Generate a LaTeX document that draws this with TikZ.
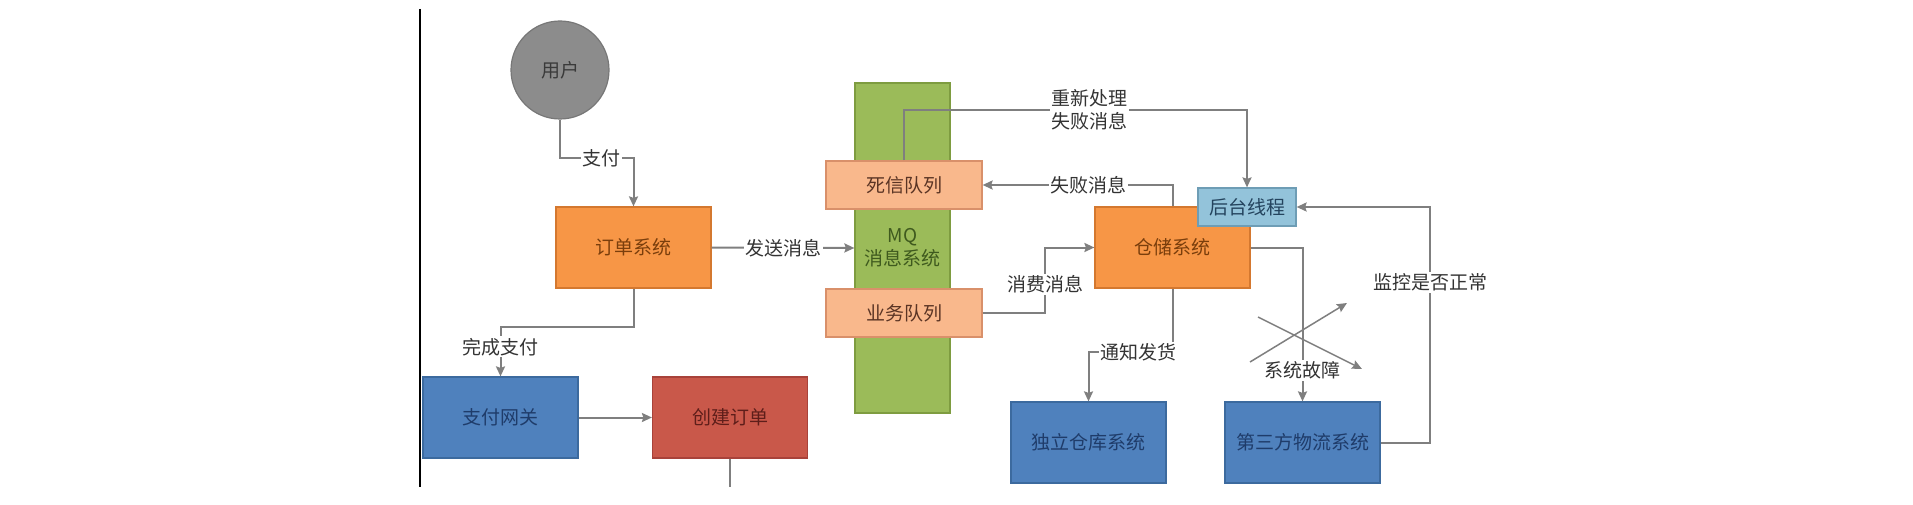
\documentclass[tikz,border=0pt]{standalone}
\usepackage{fontspec}
\setmainfont{Noto Sans CJK SC}
\usetikzlibrary{arrows.meta}
\definecolor{lnc}{HTML}{7F7F7F}
\definecolor{lblT}{HTML}{333333}
\definecolor{orF}{HTML}{F79646}
\definecolor{orD}{HTML}{D4782F}
\definecolor{orT}{HTML}{7A3E0C}
\definecolor{grF}{HTML}{9BBB59}
\definecolor{grD}{HTML}{7E9C40}
\definecolor{grT}{HTML}{3F5A1E}
\definecolor{saF}{HTML}{F9B88C}
\definecolor{saD}{HTML}{D9906A}
\definecolor{saT}{HTML}{5A3424}
\definecolor{blF}{HTML}{4F81BD}
\definecolor{blD}{HTML}{3C6A9E}
\definecolor{blT}{HTML}{1F3C6A}
\definecolor{reF}{HTML}{C9584A}
\definecolor{reD}{HTML}{A8423A}
\definecolor{reT}{HTML}{5E1E1A}
\definecolor{lbF}{HTML}{93C3DA}
\definecolor{lbD}{HTML}{6E9DB5}
\definecolor{lbT}{HTML}{24445E}
\definecolor{ciF}{HTML}{8C8C8C}
\definecolor{ciD}{HTML}{777777}
\definecolor{ciT}{HTML}{3A3A3A}
\begin{document}
\begin{tikzpicture}[x=1pt,y=-1pt,
  txt/.style={font=\fontsize{19}{23}\selectfont},
  box/.style={txt, draw, rectangle, inner sep=0pt, line width=1.2pt, align=center},
  bigbox/.style={box, minimum width=155pt, minimum height=81pt},
  orangebox/.style={bigbox, fill=orF, draw=orD, text=orT},
  bluebox/.style={bigbox, fill=blF, draw=blD, text=blT},
  redbox/.style={bigbox, fill=reF, draw=reD, text=reT},
  queuebox/.style={box, minimum width=156pt, minimum height=48pt, fill=saF, draw=saD, text=saT},
  mqbox/.style={box, minimum width=95pt, minimum height=330pt, fill=grF, draw=grD, text=grT},
  threadbox/.style={box, minimum width=98pt, minimum height=38pt, fill=lbF, draw=lbD, text=lbT},
  usercircle/.style={txt, circle, minimum size=98pt, inner sep=0pt, fill=ciF, draw=ciD, line width=1.2pt, text=ciT},
  lbl/.style={txt, fill=white, inner sep=1.5pt, text=lblT, align=center},
  ln/.style={draw=lnc, line width=2pt},
  arr/.style={ln, -{Stealth[length=10pt,width=9pt,inset=1.5pt]}}
]
\useasboundingbox (0,0) rectangle (1913,505);
\draw[line width=2pt, black] (420,9) coordinate (lt) -- (420,487) coordinate (lb);

% nodes
\node[usercircle] (user) at (560,70) {用户};
\node[orangebox] (order) at (633.5,247.5) {订单系统};
\node[bluebox] (pay) at (500.5,417.5) {支付网关};
\node[redbox] (create) at (730,417.5) {创建订单};
\node[mqbox] (mq) at (902.5,248) {MQ\\消息系统};
\node[queuebox] (dlq) at (904,185) {死信队列};
\node[queuebox] (bq) at (904,313) {业务队列};
\node[orangebox] (wh) at (1172.5,247.5) {仓储系统};
\node[threadbox] (bg) at (1247,207) {后台线程};
\node[bluebox] (ind) at (1088.5,442.5) {独立仓库系统};
\node[bluebox] (tp) at (1302.5,442.5) {第三方物流系统};

% connectors
\draw[arr] (user.south) -- (560,158) -| node[lbl, pos=0.28] {支付} (order.north);
\draw[arr] (order.east) -- node[lbl] {发送消息} (mq.west);
\draw[arr] (order.south) -- (633.5,327) -| node[lbl, pos=0.7] {完成支付} (pay.north);
\draw[arr] (pay.east) -- (create.west);
\coordinate (cbot) at (730,487);
\draw[ln] (create.south) -- (cbot);
\draw[arr] (dlq.north) -- (904,110) -| node[lbl, pos=0.27] {重新处理\\失败消息} (bg.north);
\draw[arr] (wh.north) |- node[lbl, pos=0.72] {失败消息} (dlq.east);
\draw[arr] (bq.east) -- (1045,313) |- node[lbl, pos=0.22] {消费消息} (wh.west);
\draw[arr] (wh.south) -- (1172.5,352) -| node[lbl, pos=0.2] {通知发货} (ind.north);
\draw[arr] (wh.east) -| node[lbl, pos=0.9] {系统故障} (tp.north);
\draw[arr] (tp.east) -- (1430,442.5) |- node[lbl, pos=0.34] {监控是否正常} (bg.east);

% crossed-out arrows
\coordinate (xa1) at (1250,362);
\coordinate (xa2) at (1347,303);
\coordinate (xb1) at (1258,317);
\coordinate (xb2) at (1362,369);
\draw[arr, line width=1.5pt] (xa1) -- (xa2);
\draw[arr, line width=1.5pt] (xb1) -- (xb2);
\end{tikzpicture}
\end{document}
